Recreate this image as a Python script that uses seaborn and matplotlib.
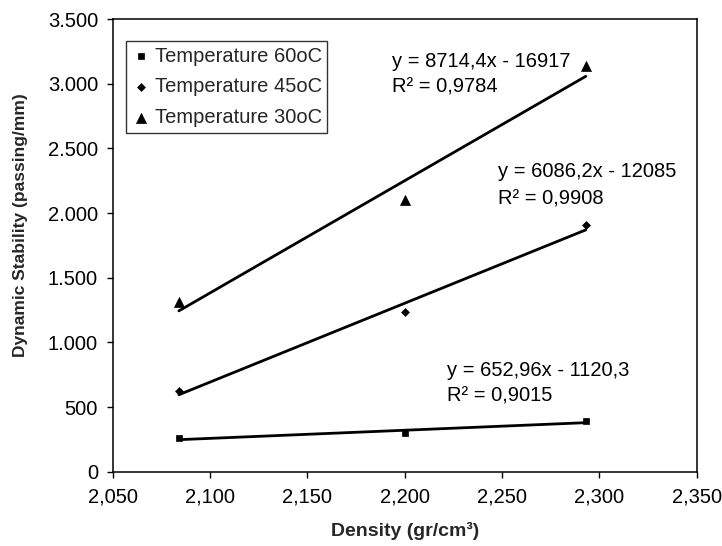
import matplotlib
matplotlib.use("Agg")
import matplotlib.pyplot as plt
import seaborn as sns
import pandas as pd
from matplotlib.ticker import FixedLocator, FixedFormatter

# ---- data ----
density = [2.084, 2.200, 2.293]
stab_60 = [258, 297, 392]
stab_45 = [626, 1233, 1908]
stab_30 = [1310, 2100, 3140]
series_names = ["Temperature 60oC", "Temperature 45oC", "Temperature 30oC"]

eq_texts = ["y = 652,96x - 1120,3", "y = 6086,2x - 12085", "y = 8714,4x - 16917"]
r2_texts = ["R² = 0,9015", "R² = 0,9908", "R² = 0,9784"]

x_ticks = [2.050, 2.100, 2.150, 2.200, 2.250, 2.300, 2.350]
x_ticklabels = ["2,050", "2,100", "2,150", "2,200", "2,250", "2,300", "2,350"]
y_ticks = [0, 500, 1000, 1500, 2000, 2500, 3000, 3500]
y_ticklabels = ["0", "500", "1.000", "1.500", "2.000", "2.500", "3.000", "3.500"]

sns.set_style("white")
plt.rcParams["font.family"] = ["Liberation Sans", "DejaVu Sans"]

fig = plt.figure(figsize=(7.22, 5.46), dpi=100)
ax = fig.add_axes([0.1561, 0.1361, 0.8089, 0.8291])

series = [stab_60, stab_45, stab_30]
markers = ["s", "D", "^"]
msizes = [16, 16, 52]
for vals, name, mk, ms in zip(series, series_names, markers, msizes):
    df = pd.DataFrame({"x": density, "y": vals})
    sns.scatterplot(data=df, x="x", y="y", marker=mk, s=ms, color="black",
                    edgecolor="black", linewidth=0.5, label=name, ax=ax, zorder=3)
    sns.regplot(data=df, x="x", y="y", scatter=False, ci=None, truncate=True,
                line_kws={"color": "black", "lw": 2.0}, ax=ax)

# annotations (positions in data coords)
ann_pos = [(2.2216, 786, 582), (2.2479, 2318, 2107), (2.1933, 3168, 2974)]
for (xp, ye, yr), et, rt in zip(ann_pos, eq_texts, r2_texts):
    ax.text(xp, ye, et, fontsize=14.5, va="center", ha="left", color="black")
    ax.text(xp, yr, rt, fontsize=14.5, va="center", ha="left", color="black")

ax.set_xlim(2.050, 2.350)
ax.set_ylim(0, 3500)
ax.xaxis.set_major_locator(FixedLocator(x_ticks))
ax.xaxis.set_major_formatter(FixedFormatter(x_ticklabels))
ax.yaxis.set_major_locator(FixedLocator(y_ticks))
ax.yaxis.set_major_formatter(FixedFormatter(y_ticklabels))
ax.tick_params(axis="both", direction="out", length=4.5, width=1.0, color="black",
               labelsize=14.5, labelcolor="black", left=True, bottom=True)
ax.tick_params(axis="x", pad=7)
ax.tick_params(axis="y", pad=6)

for sp in ax.spines.values():
    sp.set_visible(True)
    sp.set_color("black")
    sp.set_linewidth(1.1)

ax.set_xlabel("Density (gr/cm³)", fontsize=14, fontweight="bold")
ax.xaxis.set_label_coords(0.5, -0.112)
ax.set_ylabel("Dynamic Stability (passing/mm)", fontsize=12.5, fontweight="bold")
ax.yaxis.set_label_coords(-0.145, 0.545)

leg = ax.legend(loc="upper left", bbox_to_anchor=(0.0223, 0.9514), borderaxespad=0,
                frameon=True, fancybox=False, shadow=False, fontsize=14.5,
                handletextpad=0.15, handlelength=1.0, labelspacing=0.58,
                borderpad=0.28, markerscale=1.0)
leg.get_frame().set_edgecolor("black")
leg.get_frame().set_linewidth(1.0)

fig.savefig("out.png", dpi=100)
